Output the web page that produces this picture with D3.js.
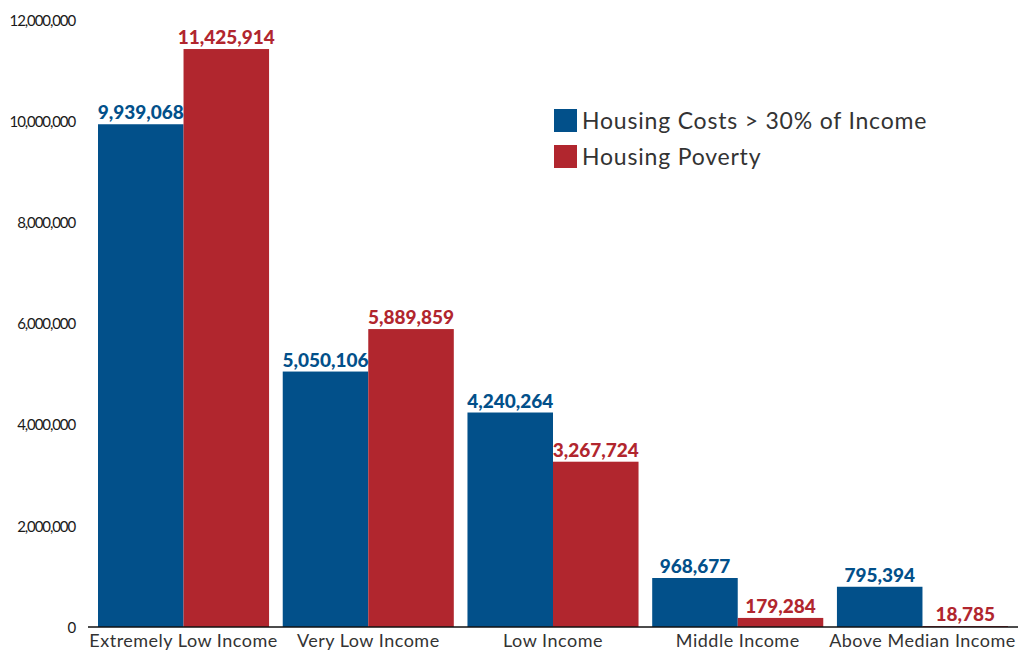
<!DOCTYPE html>
<html>
<head>
<meta charset="utf-8">
<script src="https://cdn.jsdelivr.net/npm/d3@7"></script>
<style>
  body { margin: 0; background: #fff; }
  svg { display: block; }
</style>
</head>
<body>
<svg id="chart"></svg>
<script>
// data
const categories = ["Extremely Low Income", "Very Low Income", "Low Income", "Middle Income", "Above Median Income"];
const seriesNames = ["Housing Costs > 30% of Income", "Housing Poverty"];
const costBurden = [9939068, 5050106, 4240264, 968677, 795394];
const housingPoverty = [11425914, 5889859, 3267724, 179284, 18785];
const yTicks = [0, 2000000, 4000000, 6000000, 8000000, 10000000, 12000000];

const colors = ["#02508A", "#B1262E"];

const width = 1029, height = 652;
const svg = d3.select("#chart").attr("width", width).attr("height", height);

// build rows for the grouped bars
const rows = categories.map((c, i) => ({ cat: c, values: [costBurden[i], housingPoverty[i]] }));

const x0 = d3.scaleBand().domain(categories).range([98, 1008]).paddingInner(0.074).paddingOuter(0);
const x1 = d3.scaleBand().domain([0, 1]).range([0, x0.bandwidth()]).padding(0);
const y = d3.scaleLinear().domain([0, 12000000]).range([627, 20]);

// y tick labels (no axis line)
const yAxis = d3.axisLeft(y).tickValues(yTicks).tickSize(0).tickPadding(0)
  .tickFormat(d => d === 0 ? "0" : d3.format(",")(d));
const gy = svg.append("g").attr("transform", "translate(75,0)").call(yAxis);
gy.select(".domain").remove();
gy.selectAll("text")
  .attr("font-family", "Lato, sans-serif")
  .attr("font-size", 15)
  .attr("letter-spacing", "-1.1px")
  .attr("fill", "#1a1a1a")
  .attr("dy", "0.35em");

// bars
const groups = svg.append("g").selectAll("g")
  .data(rows)
  .enter()
  .append("g")
  .attr("transform", d => `translate(${x0(d.cat)},0)`);

groups.selectAll("rect")
  .data(d => d.values.map((v, k) => ({ k, v })))
  .enter()
  .append("rect")
  .attr("x", d => x1(d.k))
  .attr("width", x1.bandwidth())
  .attr("y", d => y(d.v))
  .attr("height", d => y(0) - y(d.v))
  .attr("fill", d => colors[d.k]);

groups.selectAll("text.val")
  .data(d => d.values.map((v, k) => ({ k, v })))
  .enter()
  .append("text")
  .attr("class", "val")
  .attr("x", d => x1(d.k) + x1.bandwidth() / 2)
  .attr("y", d => y(d.v) - 5)
  .attr("text-anchor", "middle")
  .attr("font-family", "Lato, sans-serif")
  .attr("font-weight", 900)
  .attr("font-size", 19)
  .attr("fill", d => colors[d.k])
  .text(d => d3.format(",")(d.v));

// x axis line + category labels
const xAxis = d3.axisBottom(x0).tickSize(0).tickPadding(7);
const gx = svg.append("g").attr("transform", `translate(0,${y(0)})`).call(xAxis);
gx.select(".domain").attr("d", "M88,0H1018").attr("stroke", "#111").attr("stroke-width", 1.6);
gx.selectAll("text")
  .attr("font-family", "Lato, sans-serif")
  .attr("font-size", 18)
  .attr("letter-spacing", "0.5px")
  .attr("fill", "#333");

// legend
const legend = svg.append("g").attr("transform", "translate(554,109)");
const li = legend.selectAll("g")
  .data(seriesNames)
  .enter()
  .append("g")
  .attr("transform", (d, i) => `translate(0,${i * 36})`);
li.append("rect").attr("width", 23).attr("height", 23).attr("fill", (d, i) => colors[i]);
li.append("text")
  .attr("x", 28)
  .attr("y", 12)
  .attr("dy", "0.35em")
  .attr("font-family", "Lato, sans-serif")
  .attr("font-size", 23)
  .attr("letter-spacing", "0.8px")
  .attr("fill", "#333")
  .text(d => d);
</script>
</body>
</html>
